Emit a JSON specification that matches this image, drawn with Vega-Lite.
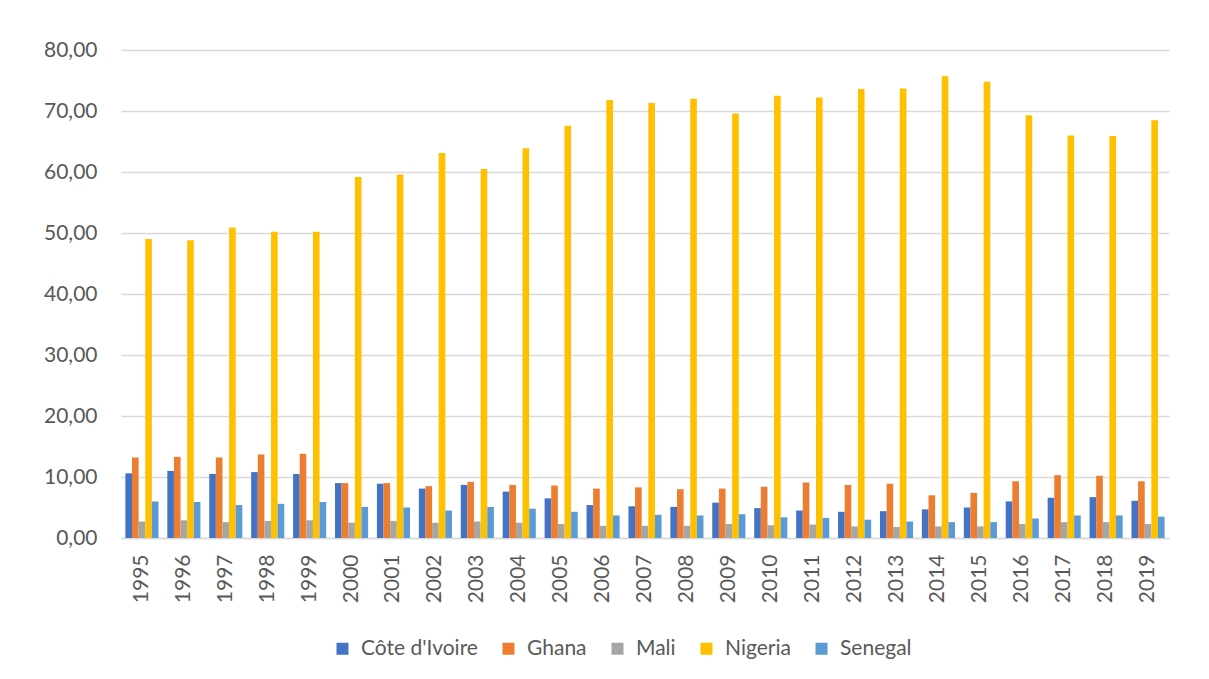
{
  "$schema": "https://vega.github.io/schema/vega-lite/v6.json",
  "autosize": {"type": "none"},
  "width": 1048,
  "height": 488,
  "padding": {"left": 121, "top": 50, "right": 40, "bottom": 141},
  "background": "white",
  "config": {
    "font": "Lato",
    "view": {"stroke": null},
    "axis": {"labelFont": "Lato", "labelColor": "#595959", "labelFontSize": 21}
  },
  "datasets": {
    "src": [
      {"year": "1995", "country": "Côte d'Ivoire", "value": 10.6}, {"year": "1995", "country": "Ghana", "value": 13.2}, {"year": "1995", "country": "Mali", "value": 2.7}, {"year": "1995", "country": "Nigeria", "value": 49.0}, {"year": "1995", "country": "Senegal", "value": 6.0},
      {"year": "1996", "country": "Côte d'Ivoire", "value": 11.0}, {"year": "1996", "country": "Ghana", "value": 13.3}, {"year": "1996", "country": "Mali", "value": 2.9}, {"year": "1996", "country": "Nigeria", "value": 48.8}, {"year": "1996", "country": "Senegal", "value": 5.9},
      {"year": "1997", "country": "Côte d'Ivoire", "value": 10.5}, {"year": "1997", "country": "Ghana", "value": 13.2}, {"year": "1997", "country": "Mali", "value": 2.6}, {"year": "1997", "country": "Nigeria", "value": 50.9}, {"year": "1997", "country": "Senegal", "value": 5.4},
      {"year": "1998", "country": "Côte d'Ivoire", "value": 10.8}, {"year": "1998", "country": "Ghana", "value": 13.7}, {"year": "1998", "country": "Mali", "value": 2.8}, {"year": "1998", "country": "Nigeria", "value": 50.2}, {"year": "1998", "country": "Senegal", "value": 5.6},
      {"year": "1999", "country": "Côte d'Ivoire", "value": 10.5}, {"year": "1999", "country": "Ghana", "value": 13.8}, {"year": "1999", "country": "Mali", "value": 2.9}, {"year": "1999", "country": "Nigeria", "value": 50.2}, {"year": "1999", "country": "Senegal", "value": 5.9},
      {"year": "2000", "country": "Côte d'Ivoire", "value": 9.0}, {"year": "2000", "country": "Ghana", "value": 9.0}, {"year": "2000", "country": "Mali", "value": 2.5}, {"year": "2000", "country": "Nigeria", "value": 59.2}, {"year": "2000", "country": "Senegal", "value": 5.1},
      {"year": "2001", "country": "Côte d'Ivoire", "value": 8.9}, {"year": "2001", "country": "Ghana", "value": 9.0}, {"year": "2001", "country": "Mali", "value": 2.8}, {"year": "2001", "country": "Nigeria", "value": 59.6}, {"year": "2001", "country": "Senegal", "value": 5.0},
      {"year": "2002", "country": "Côte d'Ivoire", "value": 8.1}, {"year": "2002", "country": "Ghana", "value": 8.5}, {"year": "2002", "country": "Mali", "value": 2.5}, {"year": "2002", "country": "Nigeria", "value": 63.1}, {"year": "2002", "country": "Senegal", "value": 4.5},
      {"year": "2003", "country": "Côte d'Ivoire", "value": 8.7}, {"year": "2003", "country": "Ghana", "value": 9.2}, {"year": "2003", "country": "Mali", "value": 2.7}, {"year": "2003", "country": "Nigeria", "value": 60.5}, {"year": "2003", "country": "Senegal", "value": 5.1},
      {"year": "2004", "country": "Côte d'Ivoire", "value": 7.6}, {"year": "2004", "country": "Ghana", "value": 8.7}, {"year": "2004", "country": "Mali", "value": 2.5}, {"year": "2004", "country": "Nigeria", "value": 63.9}, {"year": "2004", "country": "Senegal", "value": 4.8},
      {"year": "2005", "country": "Côte d'Ivoire", "value": 6.5}, {"year": "2005", "country": "Ghana", "value": 8.6}, {"year": "2005", "country": "Mali", "value": 2.3}, {"year": "2005", "country": "Nigeria", "value": 67.6}, {"year": "2005", "country": "Senegal", "value": 4.3},
      {"year": "2006", "country": "Côte d'Ivoire", "value": 5.4}, {"year": "2006", "country": "Ghana", "value": 8.1}, {"year": "2006", "country": "Mali", "value": 2.0}, {"year": "2006", "country": "Nigeria", "value": 71.8}, {"year": "2006", "country": "Senegal", "value": 3.7},
      {"year": "2007", "country": "Côte d'Ivoire", "value": 5.2}, {"year": "2007", "country": "Ghana", "value": 8.3}, {"year": "2007", "country": "Mali", "value": 2.0}, {"year": "2007", "country": "Nigeria", "value": 71.3}, {"year": "2007", "country": "Senegal", "value": 3.8},
      {"year": "2008", "country": "Côte d'Ivoire", "value": 5.1}, {"year": "2008", "country": "Ghana", "value": 8.0}, {"year": "2008", "country": "Mali", "value": 2.0}, {"year": "2008", "country": "Nigeria", "value": 72.0}, {"year": "2008", "country": "Senegal", "value": 3.7},
      {"year": "2009", "country": "Côte d'Ivoire", "value": 5.8}, {"year": "2009", "country": "Ghana", "value": 8.1}, {"year": "2009", "country": "Mali", "value": 2.3}, {"year": "2009", "country": "Nigeria", "value": 69.6}, {"year": "2009", "country": "Senegal", "value": 3.9},
      {"year": "2010", "country": "Côte d'Ivoire", "value": 4.9}, {"year": "2010", "country": "Ghana", "value": 8.4}, {"year": "2010", "country": "Mali", "value": 2.1}, {"year": "2010", "country": "Nigeria", "value": 72.5}, {"year": "2010", "country": "Senegal", "value": 3.4},
      {"year": "2011", "country": "Côte d'Ivoire", "value": 4.5}, {"year": "2011", "country": "Ghana", "value": 9.1}, {"year": "2011", "country": "Mali", "value": 2.2}, {"year": "2011", "country": "Nigeria", "value": 72.2}, {"year": "2011", "country": "Senegal", "value": 3.3},
      {"year": "2012", "country": "Côte d'Ivoire", "value": 4.3}, {"year": "2012", "country": "Ghana", "value": 8.7}, {"year": "2012", "country": "Mali", "value": 1.9}, {"year": "2012", "country": "Nigeria", "value": 73.6}, {"year": "2012", "country": "Senegal", "value": 3.0},
      {"year": "2013", "country": "Côte d'Ivoire", "value": 4.4}, {"year": "2013", "country": "Ghana", "value": 8.9}, {"year": "2013", "country": "Mali", "value": 1.8}, {"year": "2013", "country": "Nigeria", "value": 73.7}, {"year": "2013", "country": "Senegal", "value": 2.7},
      {"year": "2014", "country": "Côte d'Ivoire", "value": 4.7}, {"year": "2014", "country": "Ghana", "value": 7.0}, {"year": "2014", "country": "Mali", "value": 1.9}, {"year": "2014", "country": "Nigeria", "value": 75.7}, {"year": "2014", "country": "Senegal", "value": 2.6},
      {"year": "2015", "country": "Côte d'Ivoire", "value": 5.0}, {"year": "2015", "country": "Ghana", "value": 7.4}, {"year": "2015", "country": "Mali", "value": 1.9}, {"year": "2015", "country": "Nigeria", "value": 74.8}, {"year": "2015", "country": "Senegal", "value": 2.6},
      {"year": "2016", "country": "Côte d'Ivoire", "value": 6.0}, {"year": "2016", "country": "Ghana", "value": 9.3}, {"year": "2016", "country": "Mali", "value": 2.3}, {"year": "2016", "country": "Nigeria", "value": 69.3}, {"year": "2016", "country": "Senegal", "value": 3.2},
      {"year": "2017", "country": "Côte d'Ivoire", "value": 6.6}, {"year": "2017", "country": "Ghana", "value": 10.3}, {"year": "2017", "country": "Mali", "value": 2.6}, {"year": "2017", "country": "Nigeria", "value": 66.0}, {"year": "2017", "country": "Senegal", "value": 3.7},
      {"year": "2018", "country": "Côte d'Ivoire", "value": 6.7}, {"year": "2018", "country": "Ghana", "value": 10.2}, {"year": "2018", "country": "Mali", "value": 2.6}, {"year": "2018", "country": "Nigeria", "value": 65.9}, {"year": "2018", "country": "Senegal", "value": 3.7},
      {"year": "2019", "country": "Côte d'Ivoire", "value": 6.1}, {"year": "2019", "country": "Ghana", "value": 9.3}, {"year": "2019", "country": "Mali", "value": 2.3}, {"year": "2019", "country": "Nigeria", "value": 68.5}, {"year": "2019", "country": "Senegal", "value": 3.5}
    ]
  },
  "data": {"name": "src"},
  "mark": {"type": "bar", "stroke": null},
  "encoding": {
    "x": {
      "field": "year", "type": "nominal", "sort": null,
      "scale": {"paddingInner": 0.21, "paddingOuter": 0.105},
      "axis": {
        "title": null, "labelAngle": 270, "labelPadding": 16, "ticks": false,
        "domain": true, "domainColor": "#D9D9D9", "domainWidth": 1.5,
        "labelBaseline": "middle", "labelAlign": "right"
      }
    },
    "xOffset": {
      "field": "country", "type": "nominal",
      "sort": ["Côte d'Ivoire", "Ghana", "Mali", "Nigeria", "Senegal"],
      "scale": {"paddingInner": 0, "paddingOuter": 0}
    },
    "y": {
      "field": "value", "type": "quantitative",
      "scale": {"domain": [0, 80], "nice": false},
      "axis": {
        "title": null, "values": [0, 10, 20, 30, 40, 50, 60, 70, 80],
        "labelExpr": "replace(format(datum.value, '.2f'), '.', ',')",
        "domain": false, "ticks": false, "labelPadding": 24,
        "gridColor": "#D9D9D9", "gridWidth": 1.5
      }
    },
    "color": {
      "field": "country", "type": "nominal",
      "sort": ["Côte d'Ivoire", "Ghana", "Mali", "Nigeria", "Senegal"],
      "scale": {
        "domain": ["Côte d'Ivoire", "Ghana", "Mali", "Nigeria", "Senegal"],
        "range": ["#4472C4", "#ED7D31", "#A5A5A5", "#FFC000", "#5B9BD5"]
      },
      "legend": {
        "title": null, "orient": "none", "direction": "horizontal",
        "legendX": 211, "legendY": 588, "padding": 0,
        "symbolType": "square", "symbolSize": 144, "symbolStrokeWidth": 0,
        "labelFont": "Lato", "labelFontSize": 21, "labelColor": "#595959",
        "labelOffset": 8, "columnPadding": 20
      }
    }
  }
}
